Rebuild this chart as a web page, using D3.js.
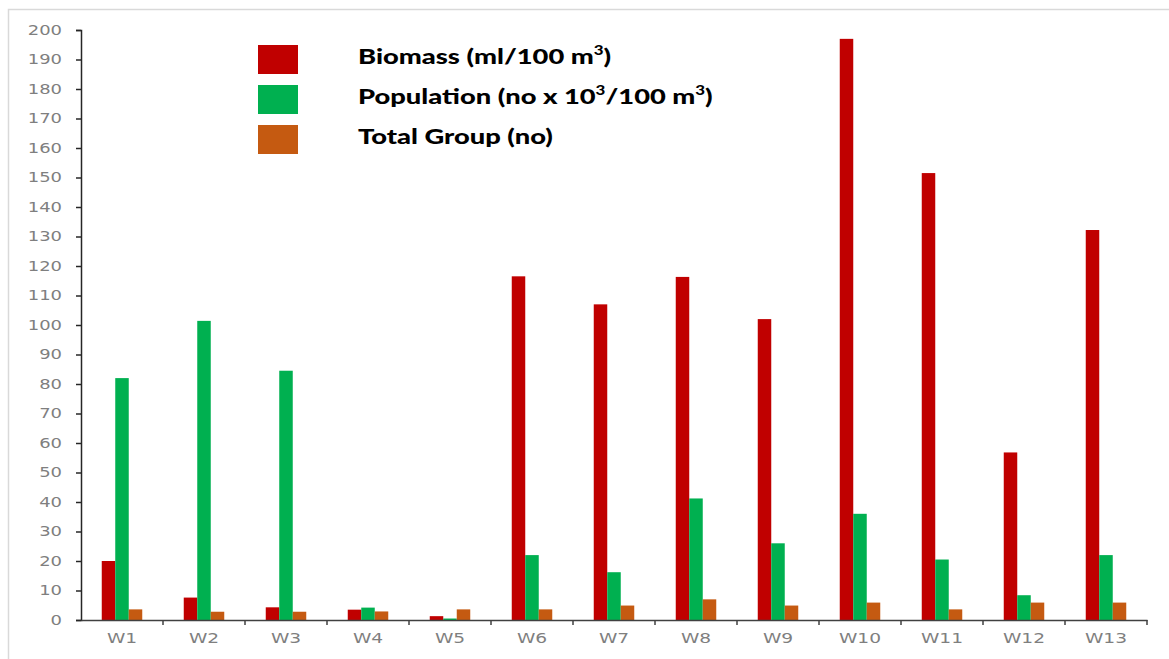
<!DOCTYPE html>
<html lang="en">
<head>
<meta charset="UTF-8">
<title>Biomass, Population and Total Group by station</title>
<script src="https://d3js.org/d3.v7.min.js"></script>
<style>
  body { margin: 0; background: #fff; overflow: hidden; }
  svg { display: block; }
  .tick text { font-family: "DejaVu Sans", sans-serif; fill: #7f7f7f; }
  .legend text { font-family: Lato, "Liberation Sans", sans-serif; font-weight: 900; fill: #000; }
</style>
</head>
<body>
<script>
// data
const stations = ["W1","W2","W3","W4","W5","W6","W7","W8","W9","W10","W11","W12","W13"];
const biomass    = [20, 7.6, 4.3, 3.5, 1.3, 116.5, 107, 116.3, 102, 197, 151.5, 56.8, 132.2];
const population = [82, 101.4, 84.5, 4.2, 0.5, 22, 16.2, 41.2, 26, 36, 20.5, 8.4, 22];
const totalGroup = [3.6, 2.8, 2.8, 2.9, 3.6, 3.6, 4.9, 7, 4.9, 5.9, 3.6, 5.9, 5.9];
const seriesNames = ["Biomass", "Population", "Total Group"];
const yTicks = d3.range(0, 201, 10);

const width = 1169, height = 659;
const colors = ["#c00000", "#00b050", "#c55a11"];

const svg = d3.select("body").append("svg")
    .attr("width", width)
    .attr("height", height);

// light frame (top and left edge visible)
svg.append("rect")
    .attr("x", 8.5).attr("y", 9.5)
    .attr("width", width + 10).attr("height", height + 10)
    .attr("fill", "none")
    .attr("stroke", "#d9d9d9")
    .attr("stroke-width", 1.5);

const margin = {left: 81, right: 22, top: 30, bottom: 39};

const x = d3.scaleBand()
    .domain(stations)
    .range([margin.left, width - margin.right]);

const y = d3.scaleLinear()
    .domain([0, 200])
    .range([height - margin.bottom, margin.top]);

const barW = 13.5;
const sub = d3.scaleBand()
    .domain(seriesNames)
    .range([-barW * 1.5, barW * 1.5]);

const series = [biomass, population, totalGroup];

series.forEach((vals, si) => {
    svg.append("g")
        .selectAll("rect")
        .data(vals)
        .join("rect")
        .attr("x", (d, i) => x(stations[i]) + x.bandwidth() / 2 + sub(seriesNames[si]))
        .attr("y", d => y(d))
        .attr("width", sub.bandwidth())
        .attr("height", d => y(0) - y(d))
        .attr("fill", colors[si]);
});

// the reference text is drawn wide, so stretch it
function widen(sel, k) {
    sel.each(function() {
        const w = this.getComputedTextLength();
        d3.select(this)
            .attr("textLength", w * k)
            .attr("lengthAdjust", "spacingAndGlyphs");
    });
}

// y axis
const yAxis = svg.append("g")
    .attr("transform", `translate(${margin.left},0)`)
    .call(d3.axisLeft(y).tickValues(yTicks).tickSize(5).tickPadding(14));
yAxis.select(".domain").attr("stroke", "#262626").attr("stroke-width", 1.5);
yAxis.selectAll(".tick line").attr("stroke", "#262626").attr("stroke-width", 1.5);
yAxis.selectAll(".tick text").attr("font-size", 13.5).call(widen, 1.33);

// x axis: ticks sit between the stations
const xAxis = svg.append("g")
    .attr("transform", `translate(0,${y(0)})`)
    .call(d3.axisBottom(x).tickSize(0).tickPadding(13));
xAxis.select(".domain").attr("stroke", "#404040").attr("stroke-width", 1.5);
xAxis.selectAll(".tick text").attr("font-size", 13.5).call(widen, 1.38);
xAxis.append("g")
    .selectAll("line")
    .data(stations)
    .join("line")
    .attr("x1", d => x(d) + x.bandwidth())
    .attr("x2", d => x(d) + x.bandwidth())
    .attr("y1", 0).attr("y2", 5)
    .attr("stroke", "#404040")
    .attr("stroke-width", 1.5);

// legend
const legendItems = [
    [{t: "Biomass (ml/100 m"}, {t: "3", sup: true}, {t: ")"}],
    [{t: "Population (no x 10"}, {t: "3", sup: true}, {t: "/100 m"}, {t: "3", sup: true}, {t: ")"}],
    [{t: "Total Group (no)"}]
];

const legend = svg.append("g").attr("class", "legend");
legendItems.forEach((parts, i) => {
    const top = 45 + i * 40;
    legend.append("rect")
        .attr("x", 258).attr("y", top)
        .attr("width", 40).attr("height", 29)
        .attr("fill", colors[i]);
    const txt = legend.append("text")
        .attr("x", 358).attr("y", top + 19)
        .attr("font-size", 21);
    let raised = false;
    parts.forEach(p => {
        let dy = 0;
        if (p.sup && !raised) { dy = -9; raised = true; }
        else if (!p.sup && raised) { dy = 9; raised = false; }
        txt.append("tspan")
            .attr("font-size", p.sup ? 13 : 21)
            .attr("dy", dy)
            .text(p.t);
    });
    widen(txt, 1.3);
});
</script>
</body>
</html>
